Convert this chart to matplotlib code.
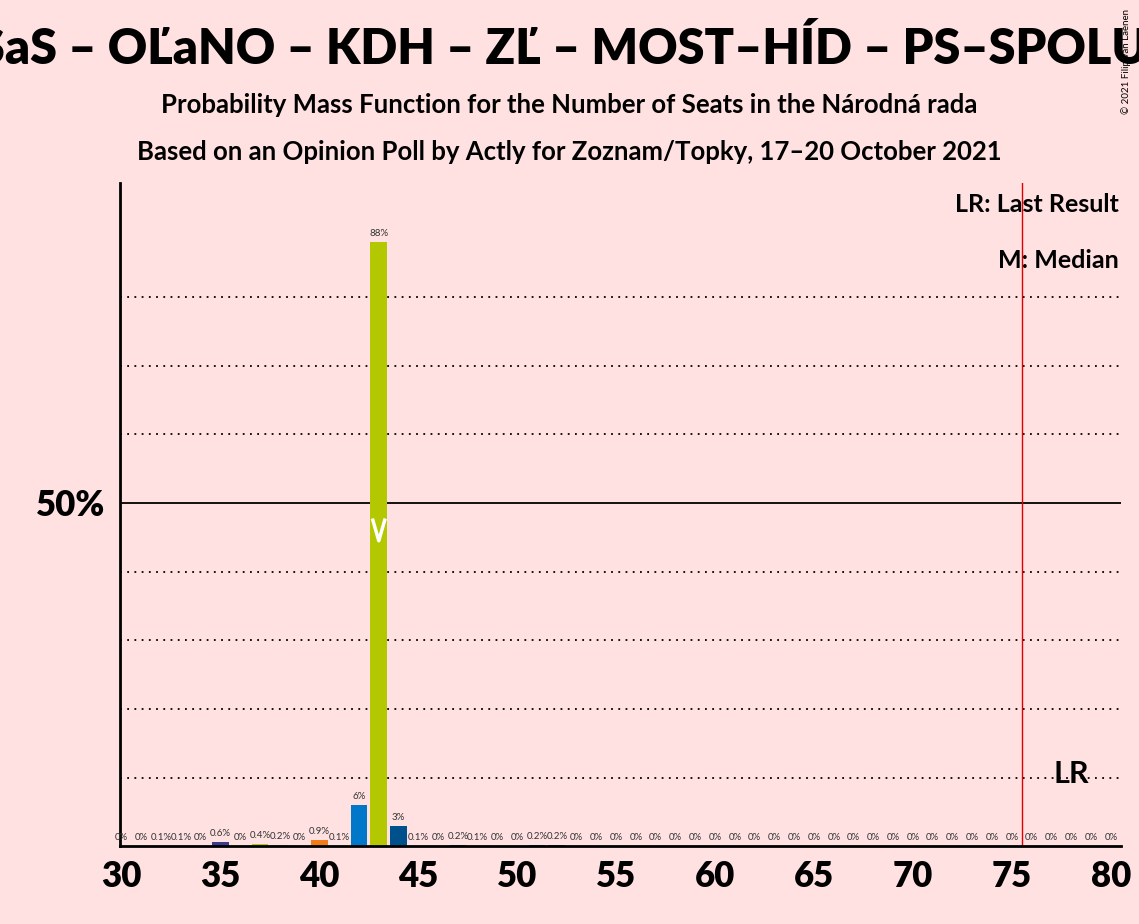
import matplotlib.pyplot as plt
import numpy as np

plt.rcParams['font.family'] = ['Lato', 'DejaVu Sans']

seats = list(range(30, 81))
probs = [0, 0, 0.1, 0.1, 0, 0.6, 0, 0.4, 0.2, 0, 0.9, 0.1, 6, 88, 3, 0.1, 0, 0.2, 0.1, 0,
         0, 0.2, 0.2] + [0] * 28
labels = ['0%' if p == 0 else ('%g%%' % p) for p in probs]
bar_colors = {35: '#3d3a8c', 37: '#b5c800', 38: '#b5c800', 40: '#f07c1a', 42: '#0077c8',
              43: '#b3c800', 44: '#00508c'}
median = 43
last_result = 78
majority = 75.5

bg = '#ffe1e1'
fig = plt.figure(figsize=(11.39, 9.24), dpi=100, facecolor=bg)
ax = fig.add_axes([0.105, 0.084, 0.879, 0.718], facecolor=bg)

cols = [bar_colors.get(s, '#0077c8') for s in seats]
ax.bar(seats, probs, width=0.85, color=cols, zorder=2)
for s, p, l in zip(seats, probs, labels):
    ax.text(s, p + 0.6, l, ha='center', va='bottom', fontsize=7, color='#333333')

for y in [10, 20, 30, 40, 60, 70, 80]:
    ax.axhline(y, color='black', linestyle=(0, (1, 3)), linewidth=1.3, zorder=0)
ax.axhline(50, color='black', linewidth=1.3, zorder=0)
ax.plot([median - 0.3, median, median + 0.3], [47.5, 44.5, 47.5], color='white', lw=2.5, zorder=3)
ax.axvline(majority, color='#e00000', linewidth=1)
ax.text(last_result, 8.5, 'LR', ha='center', va='bottom', fontsize=22, fontweight='bold')

ax.set_xlim(29.9, 80.5)
ax.set_ylim(0, 96.6)
ax.set_xticks(range(30, 81, 5))
ax.set_yticks([50])
ax.set_yticklabels(['50%'])
ax.tick_params(axis='both', length=0, labelsize=25, pad=10)
for t in ax.get_xticklabels() + ax.get_yticklabels():
    t.set_fontweight('heavy')
for side in ['top', 'right']:
    ax.spines[side].set_visible(False)
ax.spines['left'].set_linewidth(2)
ax.spines['bottom'].set_linewidth(2)

ax.text(0.998, 0.985, 'LR: Last Result', transform=ax.transAxes, ha='right', va='top',
        fontsize=18, fontweight='bold')
ax.text(0.998, 0.90, 'M: Median', transform=ax.transAxes, ha='right', va='top',
        fontsize=18, fontweight='bold')

fig.text(0.494, 0.947, 'SaS – OĽaNO – KDH – ZĽ – MOST–HÍD – PS–SPOLU', ha='center', va='center',
         fontsize=35, fontweight='heavy')
fig.text(0.5, 0.886, 'Probability Mass Function for the Number of Seats in the Národná rada',
         ha='center', va='center', fontsize=18.5, fontweight='bold')
fig.text(0.5, 0.835, 'Based on an Opinion Poll by Actly for Zoznam/Topky, 17–20 October 2021',
         ha='center', va='center', fontsize=18.5, fontweight='bold')
fig.text(0.993, 0.99, '© 2021 Filip van Laenen', rotation=90, ha='right', va='top', fontsize=7)

fig.savefig('out.png', dpi=100, facecolor=bg)
